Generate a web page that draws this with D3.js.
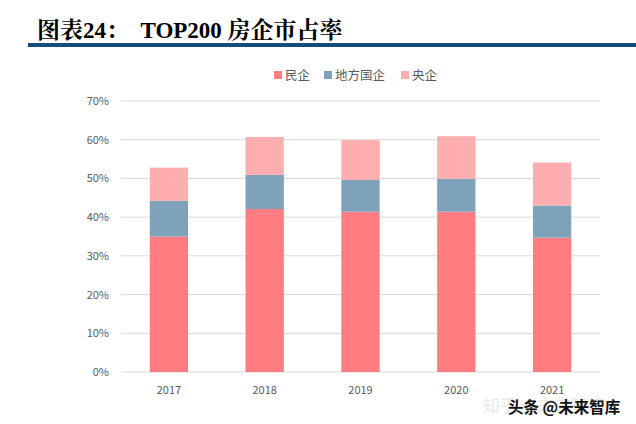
<!DOCTYPE html>
<html><head><meta charset="utf-8">
<script src="https://cdn.jsdelivr.net/npm/d3@7"></script>
<style>body{margin:0;background:#fff}svg{display:block}</style>
</head><body>
<svg id="c" width="636" height="424"></svg>
<script>
const categories = ["2017","2018","2019","2020","2021"];
const seriesNames = ["民企","地方国企","央企"];
const privateVals = [35.0, 42.1, 41.4, 41.4, 34.7];
const localSoeVals = [9.2, 8.8, 8.2, 8.5, 8.3];
const centralSoeVals = [8.6, 9.8, 10.3, 11.0, 11.1];
const yTicks = [0,10,20,30,40,50,60,70];
const colors = ["#FF7C80","#7EA2BA","#FFAEB0"];

const svg = d3.select("#c");
const font = "'Microsoft YaHei','Noto Sans CJK SC',sans-serif";

// title
svg.append("text").attr("x",37).attr("y",38)
  .attr("font-family","'Times New Roman','Liberation Serif','Noto Serif CJK SC','Noto Sans CJK SC',serif")
  .attr("font-weight","bold").attr("font-size",23).attr("fill","#000")
  .attr("xml:space","preserve").text("图表24：  TOP200 房企市占率");
svg.append("rect").attr("x",28).attr("y",43).attr("width",608).attr("height",4).attr("fill","#154D7C");

const x = d3.scaleBand().domain(categories).range([121,600]).paddingInner(0.6).paddingOuter(0.3);
const y = d3.scaleLinear().domain([0,70]).range([372,101]);

// grid
svg.append("g").selectAll("line").data(yTicks).join("line")
  .attr("x1",121).attr("x2",600).attr("y1",d=>y(d)).attr("y2",d=>y(d))
  .attr("stroke","#D9D9D9").attr("stroke-width",1);

// y labels
svg.append("g").selectAll("text").data(yTicks).join("text")
  .attr("x",109).attr("y",d=>y(d)+4).attr("text-anchor","end")
  .attr("font-family",font).attr("font-size",11).attr("fill","#595959")
  .text(d=>d+"%");

const data = categories.map((c,i)=>({cat:c,"民企":privateVals[i],"地方国企":localSoeVals[i],"央企":centralSoeVals[i]}));
const stack = d3.stack().keys(seriesNames)(data);
svg.append("g").selectAll("g").data(stack).join("g").attr("fill",(d,i)=>colors[i])
  .selectAll("rect").data(d=>d).join("rect")
  .attr("x",d=>x(d.data.cat)).attr("width",x.bandwidth())
  .attr("y",d=>y(d[1])).attr("height",d=>y(d[0])-y(d[1]));

// x labels
svg.append("g").selectAll("text").data(categories).join("text")
  .attr("x",d=>x(d)+x.bandwidth()/2).attr("y",394).attr("text-anchor","middle")
  .attr("font-family",font).attr("font-size",11).attr("fill","#595959")
  .text(d=>d);

// legend
const legX = [274, 324, 401];
const lg = svg.append("g").selectAll("g").data(seriesNames).join("g")
  .attr("transform",(d,i)=>`translate(${legX[i]},0)`);
lg.append("rect").attr("x",0).attr("y",71).attr("width",8).attr("height",8).attr("fill",(d,i)=>colors[i]);
lg.append("text").attr("x",11).attr("y",80).attr("font-family",font).attr("font-size",12.5)
  .attr("fill","#595959").text(d=>d);

// watermarks
svg.append("text").attr("x",483).attr("y",412).attr("font-family",font).attr("font-size",17)
  .attr("fill","#E8E8E8").text("知乎 @未来智库");
svg.append("text").attr("x",508).attr("y",413).attr("font-family",font).attr("font-size",15.5)
  .attr("font-weight","bold").attr("fill","#111").text("头条 @未来智库");
</script>
</body></html>
